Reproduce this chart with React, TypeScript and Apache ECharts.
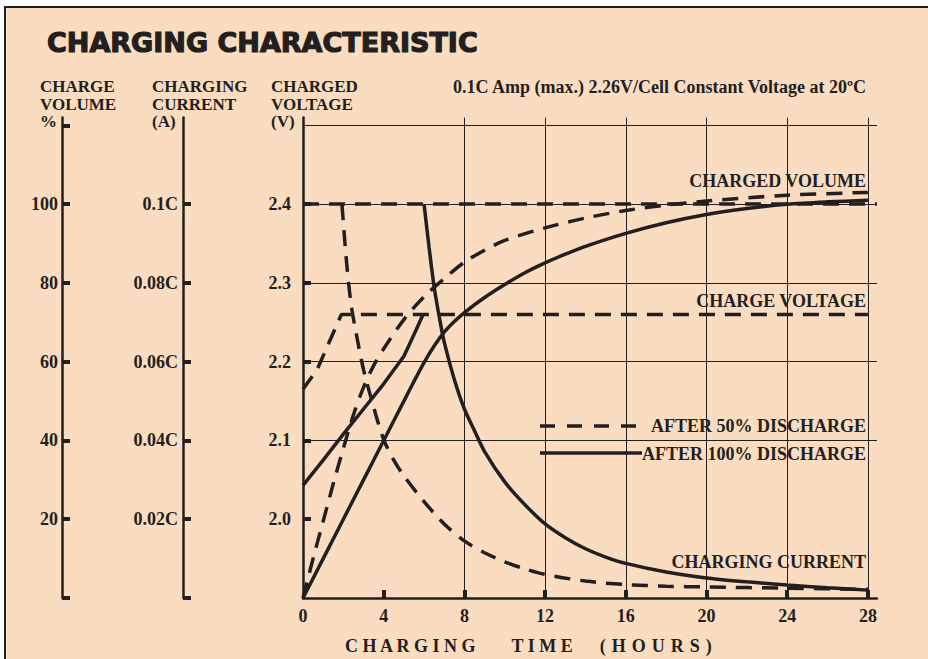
import React, { useEffect, useRef } from 'react';
import * as echarts from 'echarts';

const INK = '#231f20';
const PEACH = '#fadcc0';
const SERIF = '"Liberation Serif", "Times New Roman", serif';

// tick values
const hourTicks = [0, 4, 8, 12, 16, 20, 24, 28];
const hourMarks = [4, 8, 12, 16, 20, 24, 28];
const voltageTicks = [2.0, 2.1, 2.2, 2.3, 2.4];
const volumeTicks = [0, 20, 40, 60, 80, 100, 120];
const volumeLabels = [20, 40, 60, 80, 100];
const currentTicks = [0, 0.02, 0.04, 0.06, 0.08, 0.1];
const currentLabels = [0.02, 0.04, 0.06, 0.08, 0.1];

// charged volume (%), [hours, %]
const volume50 = [
  [0, 0], [0.5, 10], [1, 19.5], [1.5, 29], [2, 38], [2.5, 46.5], [3, 53.5],
  [3.5, 59], [4, 63.3], [5, 70.7], [6, 76.5], [7, 81.1], [8, 85.3], [9, 88.3],
  [10, 90.8], [12, 94], [14, 96.5], [16, 98.4], [18, 99.8], [20, 100.8],
  [24, 102.3], [28, 103],
];
const volume100 = [
  [0, 0], [1, 10], [2, 20], [3, 30], [4, 40], [5, 50], [5.5, 55], [6, 59.8],
  [6.5, 64], [7, 67.5], [7.5, 70.2], [8, 72.5], [9, 76.3], [10, 79.6],
  [11, 82.6], [12, 85.1], [13, 87.3], [14, 89.3], [16, 92.6], [18, 95.3],
  [20, 97.4], [22, 98.9], [24, 100], [26, 100.6], [28, 101],
];

// charging current (C), [hours, C]
const current50 = [
  [1.93, 0.1], [2.05, 0.092], [2.2, 0.083], [2.4, 0.074], [2.7, 0.0655],
  [3, 0.058], [3.5, 0.0485], [4, 0.0402], [4.5, 0.035], [5, 0.031], [6, 0.0245],
  [7, 0.0188], [8, 0.0145], [9, 0.0115], [10, 0.0092], [11, 0.0074],
  [12, 0.006], [14, 0.0043], [16, 0.0034], [18, 0.003], [20, 0.0028],
  [24, 0.0025], [28, 0.0022],
];
const current100 = [
  [6, 0.1], [6.25, 0.089], [6.5, 0.079], [6.75, 0.0715], [7, 0.065],
  [7.5, 0.0555], [8, 0.048], [8.5, 0.0425], [9, 0.0372], [10, 0.0295],
  [11, 0.0237], [12, 0.0188], [13, 0.0153], [14, 0.0125], [15, 0.0104],
  [16, 0.0088], [18, 0.0066], [20, 0.0051], [22, 0.0041], [24, 0.0033],
  [26, 0.0026], [28, 0.002],
];

// charged voltage (V), [hours, V]
const voltage50 = [
  [0, 2.165], [0.7, 2.19], [1.3, 2.225], [1.7, 2.248], [1.9, 2.26], [28, 2.26],
];
const voltage100 = [
  [0, 2.043], [1, 2.075], [2, 2.108], [3, 2.14], [4, 2.172], [5, 2.207],
  [5.6, 2.24], [5.95, 2.26],
];

const DASH = [16, 10];

function lineSeries(data: number[][], yAxisIndex: number, dashed: boolean, smooth: number | boolean, extra: any = {}) {
  return {
    type: 'line',
    data,
    yAxisIndex,
    symbol: 'none',
    smooth,
    silent: true,
    lineStyle: { color: INK, width: 3.5, type: dashed ? DASH : 'solid', cap: 'butt' },
    ...extra,
  };
}

const labelFont = { color: INK, fontFamily: SERIF, fontWeight: 'bold', fontSize: 18 };

export default function App() {
  const ref = useRef<HTMLDivElement>(null);

  useEffect(() => {
    if (!ref.current) return;
    const chart = echarts.init(ref.current, undefined, { renderer: 'svg' });

    const text = (x: number, y: number, str: string, opts: any = {}) => ({
      type: 'text',
      x,
      y,
      silent: true,
      style: {
        text: str,
        fill: INK,
        font: `bold 18px ${SERIF}`,
        textAlign: 'left',
        textVerticalAlign: 'middle',
        ...opts,
      },
    });
    const title = (x: number, y: number, str: string) => text(x, y, str, { font: `bold 17px ${SERIF}` });

    chart.setOption({
      animation: false,
      backgroundColor: 'transparent',
      grid: { left: 303, right: 51, top: 117.6, bottom: 61, containLabel: false },
      xAxis: {
        type: 'value',
        min: 0,
        max: 28.45,
        interval: 4,
        axisLine: { show: true, lineStyle: { color: INK, width: 2.5 } },
        axisTick: { show: true, inside: true, length: 8, lineStyle: { color: INK, width: 4 }, customValues: hourMarks },
        axisLabel: { ...labelFont, margin: 9, customValues: hourTicks },
        splitLine: { show: true, showMinLine: false, showMaxLine: true, lineStyle: { color: INK, width: 1 } },
      },
      yAxis: [
        {
          type: 'value',
          position: 'left',
          min: 1.9,
          max: 2.51,
          interval: 0.1,
          axisLine: { show: true, lineStyle: { color: INK, width: 2.5 } },
          axisTick: { show: true, inside: true, length: 8, lineStyle: { color: INK, width: 4 }, customValues: voltageTicks },
          axisLabel: { ...labelFont, margin: 12, customValues: voltageTicks, formatter: (v: number) => v.toFixed(1) },
          splitLine: { show: true, showMinLine: false, showMaxLine: true, lineStyle: { color: INK, width: 1 } },
        },
        {
          type: 'value',
          position: 'left',
          offset: 241,
          min: 0,
          max: 122,
          interval: 20,
          axisLine: { show: true, lineStyle: { color: INK, width: 2.5 } },
          axisTick: { show: true, inside: true, length: 8, lineStyle: { color: INK, width: 4 }, customValues: volumeTicks },
          axisLabel: { ...labelFont, margin: 4, customValues: volumeLabels, formatter: (v: number) => String(v) },
          splitLine: { show: false },
        },
        {
          type: 'value',
          position: 'left',
          offset: 120,
          min: 0,
          max: 0.122,
          interval: 0.02,
          axisLine: { show: true, lineStyle: { color: INK, width: 2.5 } },
          axisTick: { show: true, inside: true, length: 8, lineStyle: { color: INK, width: 4 }, customValues: currentTicks },
          axisLabel: {
            ...labelFont,
            margin: 5,
            customValues: currentLabels,
            formatter: (v: number) => (Math.abs(v - 0.1) < 1e-9 ? '0.1C' : v.toFixed(2) + 'C'),
          },
          splitLine: { show: false },
        },
      ],
      series: [
        lineSeries(voltage50, 0, true, false, {
          markLine: {
            silent: true,
            symbol: ['none', 'none'],
            label: { show: false },
            data: [
              { yAxis: 2.5, lineStyle: { color: INK, width: 1, type: 'solid' } },
              { yAxis: 2.4, lineStyle: { color: INK, width: 3.5, type: DASH, cap: 'butt' } },
            ],
          },
        }),
        lineSeries(voltage100, 0, false, false),
        lineSeries(volume50, 1, true, 0.3),
        lineSeries(volume100, 1, false, 0.3),
        lineSeries(current50, 2, true, 0.3),
        lineSeries(current100, 2, false, 0.3),
      ],
      graphic: [
        text(47, 42, 'CHARGING CHARACTERISTIC', {
          font: `bold 27px "DejaVu Sans", sans-serif`,
          stroke: INK,
          lineWidth: 1.2,
        }),
        title(40, 86.5, 'CHARGE'),
        title(40, 104, 'VOLUME'),
        title(40, 121.5, '%'),
        title(152, 86.5, 'CHARGING'),
        title(152, 104, 'CURRENT'),
        title(152, 121.5, '(A)'),
        title(271, 86.5, 'CHARGED'),
        title(271, 104, 'VOLTAGE'),
        title(271, 121.5, '(V)'),
        text(866, 87, '0.1C Amp (max.) 2.26V/Cell Constant Voltage at 20ºC', { textAlign: 'right' }),
        text(866, 181, 'CHARGED VOLUME', { textAlign: 'right' }),
        text(866, 301, 'CHARGE VOLTAGE', { textAlign: 'right' }),
        text(866, 562, 'CHARGING CURRENT', { textAlign: 'right' }),
        text(866, 426, 'AFTER 50% DISCHARGE', { textAlign: 'right' }),
        text(866, 454, 'AFTER 100% DISCHARGE', { textAlign: 'right' }),
        {
          type: 'line',
          silent: true,
          shape: { x1: 540, y1: 426, x2: 640, y2: 426 },
          style: { stroke: INK, lineWidth: 3.5, lineDash: [15, 12], lineCap: 'butt' },
        },
        {
          type: 'line',
          silent: true,
          shape: { x1: 540, y1: 453, x2: 642, y2: 453 },
          style: { stroke: INK, lineWidth: 3.5, lineCap: 'butt' },
        },
        text(345, 646, 'C H A R G I N G\u2003\u2003T I M E\u2003\u2002( \u200AH \u200AO \u200AU \u200AR \u200AS \u200A)'),
      ],
    });

    return () => chart.dispose();
  }, []);

  return (
    <div style={{ position: 'fixed', left: 0, top: 0, width: 928, height: 659, background: '#fdfdfd', overflow: 'hidden' }}>
      <div
        style={{
          position: 'absolute',
          left: 4,
          top: 6,
          width: 940,
          height: 670,
          background: PEACH,
          border: `2.5px solid ${INK}`,
          boxSizing: 'border-box',
        }}
      />
      <div ref={ref} style={{ position: 'absolute', left: 0, top: 0, width: 928, height: 659 }} />
    </div>
  );
}
